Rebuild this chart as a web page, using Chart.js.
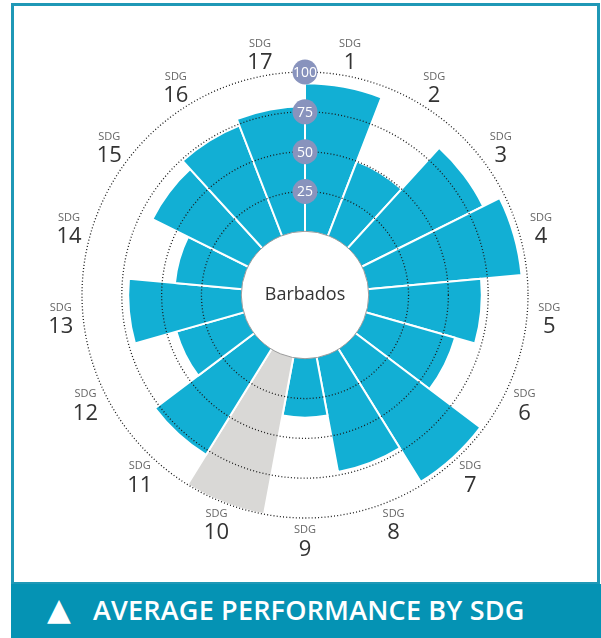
<!DOCTYPE html>
<html>
<head>
<meta charset="utf-8">
<script src="https://cdn.jsdelivr.net/npm/chart.js@4/dist/chart.umd.min.js"></script>
<style>
  body { margin: 0; background: #fff; width: 601px; height: 638px; overflow: hidden; }
  #frame { position: absolute; left: 11px; top: 3px; width: 589px; height: 582px; box-sizing: border-box; border: 3px solid #1f98b6; }
  #banner { position: absolute; left: 11px; top: 584px; width: 590px; height: 54px; background: #0593b4; color: #fff; }
  #banner .tri { position: absolute; left: 36px; top: 7px; font-family: "DejaVu Sans"; font-size: 31px; line-height: 36px; }
  #banner .txt { position: absolute; left: 82px; top: 8px; font-family: "Open Sans"; font-weight: 600; font-size: 27px; line-height: 36px; letter-spacing: 0.2px; }
  #chart { position: absolute; left: 0; top: 0; }
</style>
</head>
<body>
<div id="frame"></div>
<div id="banner"><span class="tri">▲</span><span class="txt">AVERAGE PERFORMANCE BY SDG</span></div>
<canvas id="chart" width="601" height="638"></canvas>
<script>
const categories = ['1', '2', '3', '4', '5', '6', '7', '8', '9', '10', '11', '12', '13', '14', '15', '16', '17'];
const scores = [93, 50, 85, 96.5, 71, 58, 98, 73, 37, 100, 78, 44, 71, 42, 67, 74, 78.5];
const greyGoals = ['10'];
const tickValues = [25, 50, 75, 100];
const countryName = 'Barbados';

const ctx = document.getElementById('chart').getContext('2d');

// white hole in the middle + badges, SDG labels and country name
const sdgDecor = {
  id: 'sdgDecor',
  afterDatasetsDraw(chart) {
    const r = chart.scales.r;
    const c = chart.ctx;
    const hole = r.getDistanceFromCenterForValue(0);
    c.save();
    c.beginPath();
    c.arc(r.xCenter, r.yCenter, hole, 0, Math.PI * 2);
    c.fillStyle = '#fff';
    c.fill();
    c.strokeStyle = '#9c9c9c';
    c.lineWidth = 1;
    c.stroke();
    c.restore();
  },
  afterDraw(chart) {
    const r = chart.scales.r;
    const c = chart.ctx;
    c.save();
    c.textAlign = 'center';
    c.textBaseline = 'middle';

    r.ticks.forEach(t => {
      const y = r.yCenter - r.getDistanceFromCenterForValue(t.value);
      c.beginPath();
      c.arc(r.xCenter, y, 12.5, 0, Math.PI * 2);
      c.fillStyle = '#8893bd';
      c.fill();
      c.fillStyle = '#fff';
      c.font = '14px "Open Sans"';
      c.fillText(String(t.value), r.xCenter, y + 1);
    });

    const step = Math.PI * 2 / categories.length;
    const dist = r.drawingArea * 1.1;
    categories.forEach((lab, i) => {
      const a = r.getIndexAngle(i) + step / 2;
      const x = r.xCenter + dist * Math.sin(a);
      const y = r.yCenter - dist * Math.cos(a);
      c.fillStyle = '#666';
      c.font = '11px "Open Sans"';
      c.fillText('SDG', x, y - 10);
      c.fillStyle = '#333';
      c.font = '22px "Open Sans"';
      c.fillText(lab, x, y + 9);
    });

    c.fillStyle = '#333';
    c.font = '18px "Open Sans"';
    c.fillText(countryName, r.xCenter, r.yCenter);
    c.restore();
  }
};

const data = {
  labels: categories,
  datasets: [{
    data: scores,
    backgroundColor: categories.map(g => greyGoals.includes(g) ? '#d9d8d6' : '#12afd4'),
    borderColor: '#fff',
    borderWidth: 2
  }]
};

const options = {
  responsive: false,
  animation: false,
  layout: { padding: { left: 82, right: 73, top: 72, bottom: 120 } },
  plugins: {
    legend: { display: false },
    tooltip: { enabled: false }
  },
  scales: {
    r: {
      min: -40,
      max: 100,
      afterBuildTicks: scale => { scale.ticks = tickValues.map(v => ({ value: v })); },
      ticks: { display: false },
      pointLabels: { display: false },
      angleLines: { display: false },
      grid: { circular: true, color: '#1a1a1a', lineWidth: 1.3, z: 1, borderDash: [1, 2.2] },
      border: { dash: [1, 2.2] }
    }
  }
};

new Chart(ctx, {
  type: 'polarArea',
  data: data,
  options: options,
  plugins: [sdgDecor]
});
</script>
</body>
</html>
